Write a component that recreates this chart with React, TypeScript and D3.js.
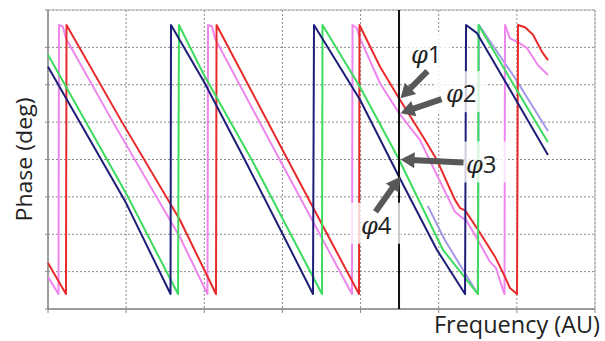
import * as d3 from "d3";

// phase vs frequency, four sawtooth traces (+ a faint lavender one at the end)
// x in grid units (0..7), phase in deg, wraps between -180 and 180
const redPts: [number, number][] = [
  [0, -138.5], [0.23, -180], [0.237, 180], [0.947, 50], [1.689, -81], [2.15, -180],
  [2.157, 180], [3.071, -1], [3.98, -180], [3.986, 180], [4.249, 124], [4.492, 82],
  [4.825, 26], [4.978, -1], [5.208, -54], [5.273, -65], [5.337, -68], [5.503, -94],
  [5.72, -130], [5.848, -157], [5.912, -172], [6.002, -180], [6.015, 180], [6.104, 177],
  [6.207, 167], [6.322, 144], [6.398, 133],
];
const pinkPts: [number, number][] = [
  [0, -157], [0.134, -180], [0.141, 180], [0.19, 178], [0.23, 162], [0.832, 50],
  [1.689, -104], [2.041, -180], [2.048, 180], [2.1, 178], [2.137, 162], [2.969, -1],
  [3.89, -180], [3.897, 180], [3.95, 176], [3.993, 162], [4.249, 102], [4.492, 62],
  [4.761, 26], [4.978, -21], [5.208, -70], [5.298, -78], [5.35, -81], [5.503, -108],
  [5.657, -137], [5.733, -145], [5.823, -175], [5.842, -180], [5.848, 180], [5.912, 162],
  [6.014, 157], [6.13, 149], [6.27, 126], [6.398, 113],
];
const greenPts: [number, number][] = [
  [0, 140], [0.998, -45], [1.664, -180], [1.676, 180], [1.996, 113], [2.611, -1],
  [3.506, -180], [3.513, 180], [3.993, 97], [4.492, 0], [5.055, -121], [5.503, -180],
  [5.509, 180], [5.976, 97], [6.398, 23],
];
const bluePts: [number, number][] = [
  [0, 124], [0.998, -58], [1.568, -180], [1.574, 180], [1.996, 104], [2.521, -1],
  [2.994, -98], [3.391, -180], [3.404, 180], [3.993, 80], [4.492, -23], [4.978, -121],
  [5.337, -180], [5.35, 180], [5.49, 169], [5.976, 82], [6.398, 6],
];
const lavenderPts: [number, number][] = [
  [4.86, -62], [5.08, -108], [5.5, -180], [5.515, 180], [5.976, 109], [6.398, 38],
];

const series = [
  { name: "lavender", pts: lavenderPts, color: "#a598e6" },
  { name: "pink", pts: pinkPts, color: "#ee86ee" },
  { name: "red", pts: redPts, color: "#e82a2a" },
  { name: "green", pts: greenPts, color: "#3ddc5e" },
  { name: "blue", pts: bluePts, color: "#1e1e78" },
];

const markerFreq = 4.492;
const xGrid = d3.range(0, 8);
const yGrid = d3.range(-200, 201, 50);

// label text offset from arrow tip (px), arrow tail offset from tip (px)
const labels = [
  { text: "1", target: "red", tx: 12, ty: -35, ax: 27, ay: -27 },
  { text: "2", target: "pink", tx: 47, ty: -11, ax: 41, ay: -14 },
  { text: "3", target: "green", tx: 67, ty: 13, ax: 63, ay: 3 },
  { text: "4", target: "blue", tx: -38, ty: 57, ax: -25, ay: 35 },
];

function phaseAt(pts: [number, number][], f: number) {
  for (let i = 1; i < pts.length; i++) {
    const [x0, y0] = pts[i - 1];
    const [x1, y1] = pts[i];
    if (f >= x0 && f <= x1 && Math.abs(y1 - y0) < 300) {
      return y0 + ((f - x0) / (x1 - x0)) * (y1 - y0);
    }
  }
  return 0;
}

export default function App() {
  const W = 605;
  const H = 341;
  const x = d3.scaleLinear().domain([0, 7]).range([48, 595]);
  const y = d3.scaleLinear().domain([-200, 200]).range([309, 10]);
  const line = d3
    .line<[number, number]>()
    .x((d) => x(d[0]))
    .y((d) => y(d[1]));

  const mx = x(markerFreq);

  return (
    <div style={{ position: "absolute", left: 0, top: 0 }}>
      <svg width={W} height={H} style={{ display: "block", background: "#fff" }}>
        {/* grid */}
        {xGrid.map((g) => (
          <line key={"gx" + g} x1={x(g)} x2={x(g)} y1={y(200)} y2={y(-200)}
            stroke="#8a8a8a" strokeWidth={1} strokeDasharray="2,2" />
        ))}
        {yGrid.map((g) => (
          <line key={"gy" + g} x1={x(0)} x2={x(7)} y1={y(g)} y2={y(g)}
            stroke="#8a8a8a" strokeWidth={1} strokeDasharray="2,2" />
        ))}
        {/* frame */}
        <rect x={x(0)} y={y(200)} width={x(7) - x(0)} height={y(-200) - y(200)}
          fill="none" stroke="#b5b5b5" strokeWidth={1} />
        <line x1={x(0)} x2={x(0)} y1={y(200)} y2={y(-200)} stroke="#8c8c8c" strokeWidth={1.5} />
        <line x1={x(0)} x2={x(7)} y1={y(-200)} y2={y(-200)} stroke="#8c8c8c" strokeWidth={1.5} />
        {xGrid.map((g) => (
          <line key={"tx" + g} x1={x(g)} x2={x(g)} y1={y(-200)} y2={y(-200) + 4} stroke="#8c8c8c" />
        ))}
        {yGrid.map((g) => (
          <line key={"ty" + g} x1={x(0) - 3} x2={x(0)} y1={y(g)} y2={y(g)} stroke="#8c8c8c" />
        ))}

        {/* traces */}
        {series.map((s) => (
          <path key={s.name} d={line(s.pts) || ""} fill="none" stroke={s.color}
            strokeWidth={2} strokeLinejoin="round" />
        ))}

        {/* marker line */}
        <line x1={mx} x2={mx} y1={y(200)} y2={y(-200)} stroke="#111" strokeWidth={2} />

        {/* label backgrounds */}
        {labels.map((l) => {
          const s = series.find((d) => d.name === l.target)!;
          const ty = y(phaseAt(s.pts, markerFreq));
          return (
            <rect key={"bg" + l.text} x={mx + l.tx - 10} y={ty + l.ty - 31} width={50} height={41}
              fill="#fff" fillOpacity={0.78} />
          );
        })}

        {/* arrows */}
        {labels.map((l) => {
          const s = series.find((d) => d.name === l.target)!;
          const tx = mx + 1.5;
          const ty = y(phaseAt(s.pts, markerFreq));
          const ang = Math.atan2(l.ay, l.ax);
          const len = Math.hypot(l.ax, l.ay);
          const deg = (ang * 180) / Math.PI;
          return (
            <g key={"ar" + l.text} transform={`translate(${tx},${ty}) rotate(${deg})`}>
              <line x1={10} y1={0} x2={len} y2={0} stroke="#585858" strokeWidth={6} />
              <path d="M0,0 L14,-8 L14,8 Z" fill="#585858" />
            </g>
          );
        })}

        {/* labels */}
        {labels.map((l) => {
          const s = series.find((d) => d.name === l.target)!;
          const ty = y(phaseAt(s.pts, markerFreq));
          return (
            <text key={"lb" + l.text} x={mx + l.tx} y={ty + l.ty} fontSize={24} fill="#222">
              <tspan fontFamily="DejaVu Serif" fontStyle="italic">φ</tspan>
              <tspan fontFamily="Open Sans">{l.text}</tspan>
            </text>
          );
        })}

        {/* axis titles */}
        <text transform={`translate(32,${(y(200) + y(-200)) / 2}) rotate(-90)`} textAnchor="middle"
          fontFamily="Open Sans" fontSize={22} fill="#222" textLength={124} lengthAdjust="spacingAndGlyphs">Phase (deg)</text>
        <text x={600} y={333} textAnchor="end" fontFamily="Open Sans" fontSize={23} fill="#222"
          textLength={166} lengthAdjust="spacingAndGlyphs">
          Frequency (AU)
        </text>
      </svg>
    </div>
  );
}
